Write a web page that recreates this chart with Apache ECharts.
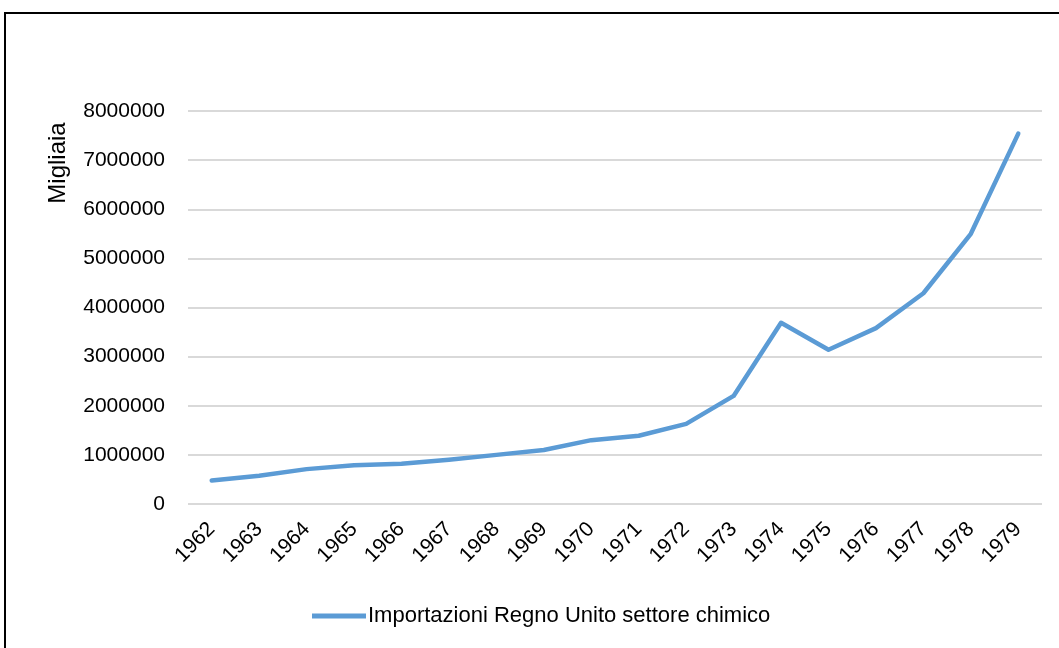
<!DOCTYPE html>
<html>
<head>
<meta charset="utf-8">
<script src="https://cdn.jsdelivr.net/npm/echarts@6/dist/echarts.min.js"></script>
<style>
  html, body { margin: 0; padding: 0; background: #fff; }
  #main { width: 1059px; height: 648px; }
</style>
</head>
<body>
<div id="main"></div>
<script>
// dati
const anni = ['1962', '1963', '1964', '1965', '1966', '1967', '1968', '1969', '1970',
  '1971', '1972', '1973', '1974', '1975', '1976', '1977', '1978', '1979']
const importazioni = [480000, 576000, 710000, 790000, 820000, 900000, 1000000, 1100000, 1300000,
  1390000, 1630000, 2200000, 3690000, 3140000, 3580000, 4290000, 5500000, 7540000]
const nomeSerie = 'Importazioni Regno Unito settore chimico'
const nomeAsseY = 'Migliaia'

const font = '"Liberation Sans", Arial, sans-serif'

var myChart = echarts.init(document.getElementById('main'))

const options = {
  animation: false,
  textStyle: { fontFamily: font },
  grid: {
    left: 188,
    right: 17,
    top: 111,
    bottom: 144
  },
  legend: {
    data: [nomeSerie],
    left: 307,
    top: 600,
    itemWidth: 54,
    itemHeight: 5,
    itemGap: 6,
    icon: 'rect',
    textStyle: { fontFamily: font, fontSize: 22, color: '#000', padding: [0, 0, 0, -3] }
  },
  graphic: [
    {
      type: 'rect',
      shape: { x: 5, y: 13, width: 1100, height: 700 },
      style: { fill: 'none', stroke: '#000', lineWidth: 2 },
      silent: true
    },
    {
      type: 'text',
      x: 46,
      y: 163,
      rotation: Math.PI / 2,
      style: {
        text: nomeAsseY,
        font: '24px ' + font,
        fill: '#000',
        align: 'center',
        verticalAlign: 'top'
      }
    }
  ],
  xAxis: [
    {
      type: 'category',
      data: anni,
      boundaryGap: true,
      axisLine: { show: false },
      axisTick: { show: false },
      axisLabel: {
        rotate: 45,
        margin: 22,
        fontSize: 21,
        color: '#000',
        fontFamily: font
      }
    }
  ],
  yAxis: [
    {
      type: 'value',
      min: 0,
      max: 8000000,
      interval: 1000000,
      axisLine: { show: false },
      axisTick: { show: false },
      axisLabel: {
        margin: 23,
        fontSize: 21,
        color: '#000',
        fontFamily: font,
        formatter: function (v) { return String(v) }
      },
      splitLine: { lineStyle: { color: '#d9d9d9', width: 2 } }
    }
  ],
  series: [
    {
      name: nomeSerie,
      type: 'line',
      data: importazioni,
      symbol: 'none',
      lineStyle: { color: '#5b9bd5', width: 4.5, cap: 'round', join: 'round' },
      itemStyle: { color: '#5b9bd5' }
    }
  ]
}

myChart.setOption(options)
</script>
</body>
</html>
